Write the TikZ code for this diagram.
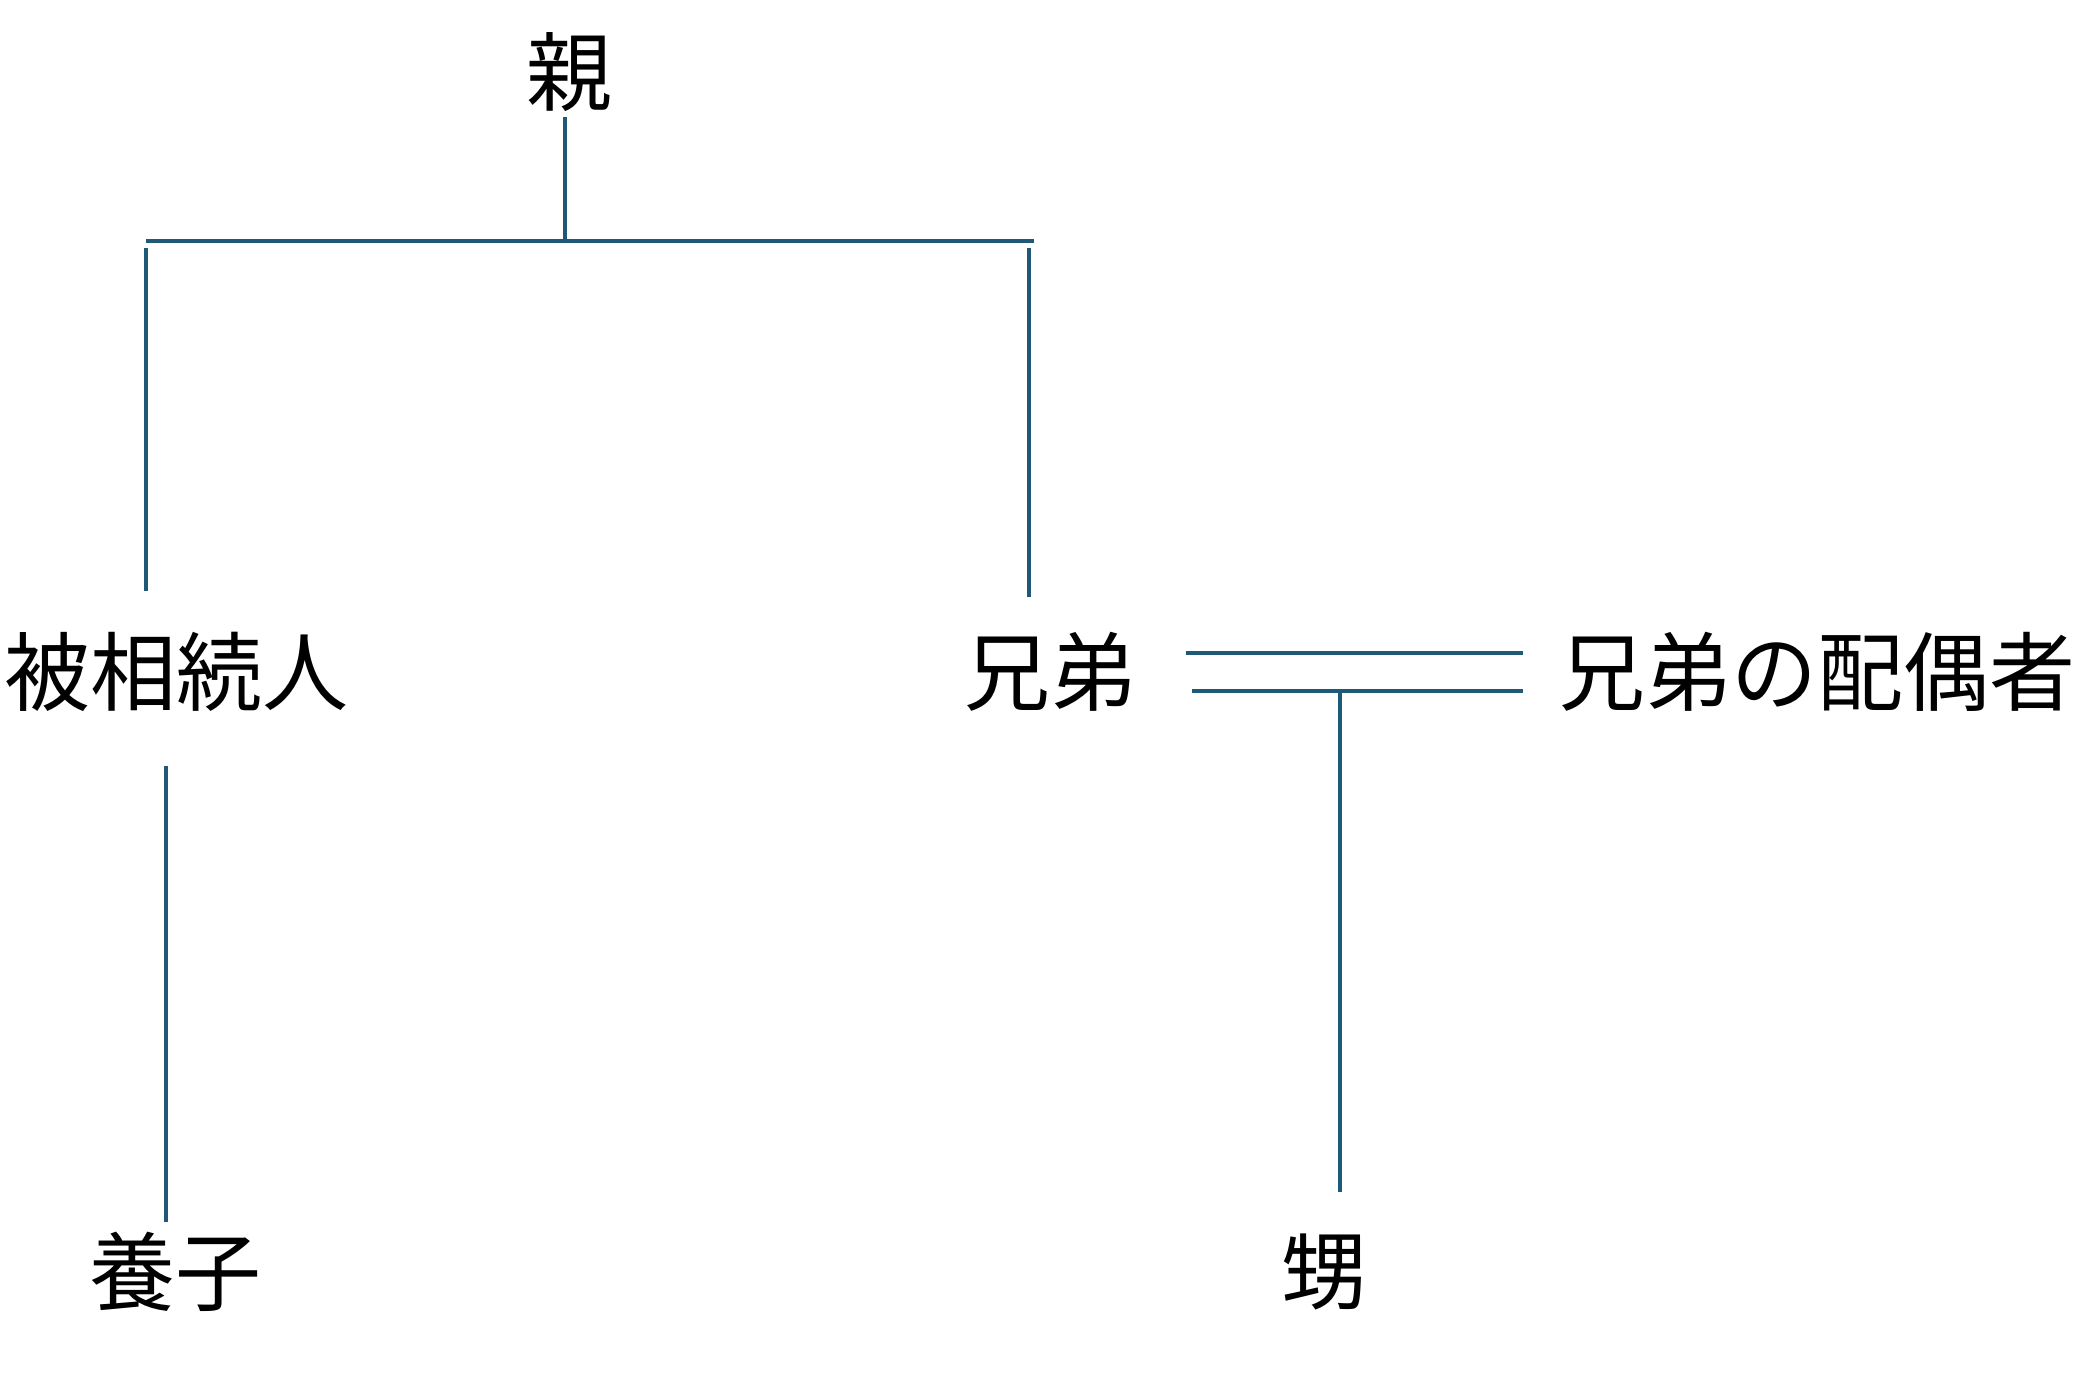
\documentclass[tikz,border=0pt]{standalone}
\usepackage{fontspec}
\newfontfamily\jpfont{Noto Sans CJK JP}
\definecolor{linecol}{RGB}{30,90,120}
\begin{document}
\begin{tikzpicture}[x=0.5pt,y=-0.5pt,
  lbl/.style={inner sep=0pt,font=\jpfont\fontsize{43}{50}\selectfont,text=black},
  link/.style={draw=linecol,line width=1.7pt},
  barline/.style={draw=linecol,line width=2.4pt}]
\useasboundingbox[fill=white] (0,0) rectangle (2097,1391);
% nodes
\node[lbl] (oya) at (569,72) {親};
\node[lbl] (hi) at (176,672) {被相続人};
\node[lbl] (kyodai) at (1050,672) {兄弟};
\node[lbl] (haigu) at (1817,672) {兄弟の配偶者};
\node[lbl] (yoshi) at (175,1272) {養子};
\node[lbl] (oi) at (1324,1272) {甥};
% connector end points
\coordinate (oyaB) at (565,117);
\coordinate (barM) at (565,241);
\coordinate (barL) at (146,241);
\coordinate (barR) at (1034,241);
\coordinate (hiUp) at (146,248);
\coordinate (hiT) at (146,591);
\coordinate (kyUp) at (1029,248);
\coordinate (kyT) at (1029,597);
\coordinate (hiB) at (166,766);
\coordinate (yoT) at (166,1222);
\coordinate (m1L) at (1186,653);
\coordinate (m1R) at (1523,653);
\coordinate (m2L) at (1192,691);
\coordinate (m2R) at (1523,691);
\coordinate (m2M) at (1340,691);
\coordinate (oiT) at (1340,1192);
% connectors
\draw[link] (oyaB) -- (barM);
\draw[barline] (barL) -- (barR);
\draw[link] (hiUp) -- (hiT);
\draw[link] (kyUp) -- (kyT);
\draw[link] (hiB) -- (yoT);
\draw[barline] (m1L) -- (m1R);
\draw[barline] (m2L) -- (m2R);
\draw[link] (m2M) -- (oiT);
\end{tikzpicture}
\end{document}
